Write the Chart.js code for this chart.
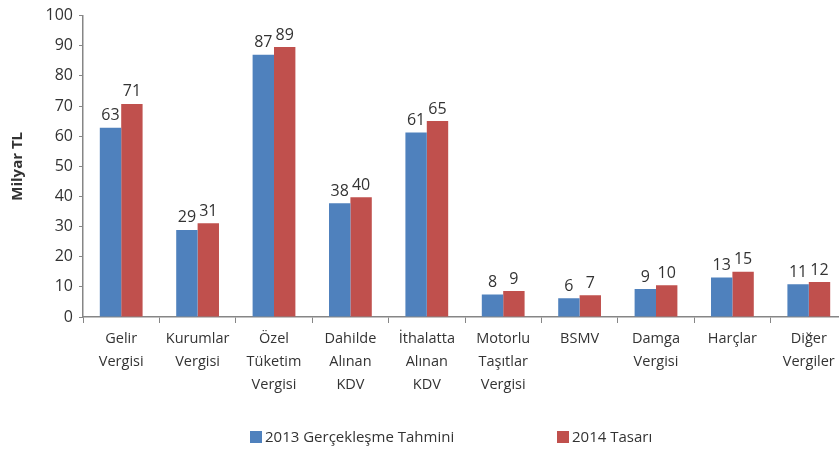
<!DOCTYPE html>
<html>
<head>
<meta charset="utf-8">
<script src="https://cdn.jsdelivr.net/npm/chart.js@4.4.0/dist/chart.umd.min.js"></script>
<style>
  html, body { margin: 0; padding: 0; background: #fff; overflow: hidden; }
  #wrap { width: 860px; height: 451px; }
</style>
</head>
<body>
<div id="wrap"><canvas id="grafik" width="860" height="451"></canvas></div>
<script>
// vergi kalemleri (milyar TL)
var kategoriler = [
  ['Gelir', 'Vergisi'], ['Kurumlar', 'Vergisi'], ['Özel', 'Tüketim', 'Vergisi'],
  ['Dahilde', 'Alınan', 'KDV'], ['İthalatta', 'Alınan', 'KDV'], ['Motorlu', 'Taşıtlar', 'Vergisi'],
  ['BSMV'], ['Damga', 'Vergisi'], ['Harçlar'], ['Diğer', 'Vergiler']
];
var seri2013 = [62.8, 28.9, 87.0, 37.7, 61.2, 7.5, 6.2, 9.3, 13.1, 10.9];
var seri2014 = [70.7, 31.1, 89.6, 39.7, 65.0, 8.6, 7.2, 10.5, 15.0, 11.6];
var etiket2013 = ['63', '29', '87', '38', '61', '8', '6', '9', '13', '11'];
var etiket2014 = ['71', '31', '89', '40', '65', '9', '7', '10', '15', '12'];
var yTikler = [0, 10, 20, 30, 40, 50, 60, 70, 80, 90, 100];

var FONT = "'Open Sans', 'DejaVu Sans', sans-serif";
var YAZI = '#333333';
var EKSEN = '#868686';

// değer etiketleri, çubukların üstüne
var degerEtiketleri = {
  id: 'degerEtiketleri',
  afterDatasetsDraw: function(chart) {
    var ctx = chart.ctx;
    ctx.save();
    ctx.font = '16px ' + FONT;
    ctx.fillStyle = YAZI;
    ctx.textAlign = 'center';
    ctx.textBaseline = 'bottom';
    chart.data.datasets.forEach(function(ds, i) {
      chart.getDatasetMeta(i).data.forEach(function(bar, j) {
        ctx.fillText(ds.etiketler[j], bar.x, bar.y - 4);
      });
    });
    ctx.restore();
  }
};

// alttaki lejant
var altLejant = {
  id: 'altLejant',
  afterDraw: function(chart) {
    var ctx = chart.ctx;
    var konum = [250, 557];
    ctx.save();
    ctx.font = '15px ' + FONT;
    ctx.textBaseline = 'middle';
    chart.data.datasets.forEach(function(ds, i) {
      ctx.fillStyle = ds.backgroundColor;
      ctx.fillRect(konum[i], 431, 12, 12);
      ctx.fillStyle = YAZI;
      ctx.fillText(ds.label, konum[i] + 15, 438);
    });
    ctx.restore();
  }
};

new Chart(document.getElementById('grafik').getContext('2d'), {
  type: 'bar',
  data: {
    labels: kategoriler,
    datasets: [
      { label: '2013 Gerçekleşme Tahmini', data: seri2013, etiketler: etiket2013, backgroundColor: '#4F81BD', categoryPercentage: 0.56, barPercentage: 1.0 },
      { label: '2014 Tasarı', data: seri2014, etiketler: etiket2014, backgroundColor: '#C0504D', categoryPercentage: 0.56, barPercentage: 1.0 }
    ]
  },
  options: {
    responsive: false,
    animation: false,
    layout: { padding: { top: 14, right: 13, left: 9, bottom: 0 } },
    plugins: { legend: { display: false }, tooltip: { enabled: false } },
    scales: {
      x: {
        offset: true,
        grid: { display: true, offset: true, drawOnChartArea: false, color: EKSEN, tickLength: 6 },
        border: { color: EKSEN, width: 1.5 },
        ticks: { color: YAZI, font: { family: FONT, size: 14.5, lineHeight: 1.6 }, padding: 4, maxRotation: 0, autoSkip: false },
        afterFit: function(s) { s.height = 451 - 317; }
      },
      y: {
        min: 0, max: 100,
        afterBuildTicks: function(s) { s.ticks = yTikler.map(function(v) { return { value: v }; }); },
        grid: { drawOnChartArea: false, color: EKSEN, tickLength: 4 },
        border: { color: EKSEN, width: 1.5 },
        ticks: { color: YAZI, font: { family: FONT, size: 16 }, padding: 6 },
        title: { display: true, text: 'Milyar TL', color: YAZI, font: { family: FONT, size: 15, weight: 'bold' }, padding: { top: 0, bottom: 4 } },
        afterFit: function(s) { s.width = 83 - 9; }
      }
    }
  },
  plugins: [degerEtiketleri, altLejant]
});
</script>
</body>
</html>
